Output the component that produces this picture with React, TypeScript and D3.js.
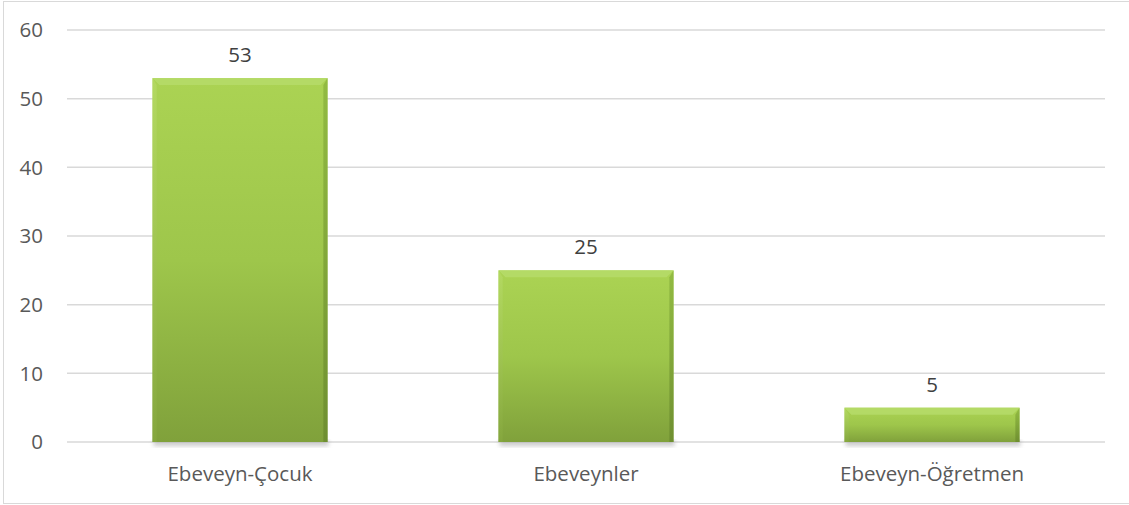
import React from "react";
import * as d3 from "d3";

const categories = ["Ebeveyn-Çocuk", "Ebeveynler", "Ebeveyn-Öğretmen"];
const values = [53, 25, 5];
const yTicks = [0, 10, 20, 30, 40, 50, 60];

const W = 1129;
const H = 505;
const plot = { left: 67, right: 1105, top: 30, bottom: 442 };

export default function App() {
  const x = d3
    .scaleBand<string>()
    .domain(categories)
    .range([plot.left, plot.right])
    .paddingInner(0.494)
    .paddingOuter(0.247);
  const y = d3.scaleLinear().domain([0, 60]).range([plot.bottom, plot.top]);
  const font = "'Open Sans', sans-serif";
  const fs = 20.5;
  const bev = 7;

  return (
    <svg
      width={W}
      height={H}
      style={{ position: "absolute", left: 0, top: 0, display: "block" }}
    >
      <defs>
        <linearGradient id="barGrad" x1="0" y1="0" x2="0" y2="1">
          <stop offset="0%" stopColor="#abd353" />
          <stop offset="50%" stopColor="#9ec64b" />
          <stop offset="100%" stopColor="#80a13b" />
        </linearGradient>
        <linearGradient id="sideL" x1="0" y1="0" x2="0" y2="1">
          <stop offset="0%" stopColor="#b8dc6a" />
          <stop offset="100%" stopColor="#88aa40" />
        </linearGradient>
        <linearGradient id="sideR" x1="0" y1="0" x2="0" y2="1">
          <stop offset="0%" stopColor="#8cb53e" />
          <stop offset="100%" stopColor="#6a8a2e" />
        </linearGradient>
        <filter id="shadow" x="-10%" y="-10%" width="120%" height="130%">
          <feGaussianBlur stdDeviation="2" />
        </filter>
      </defs>
      <rect x={3.5} y={1.5} width={W + 10} height={502} fill="#fff" stroke="#d9d9d9" strokeWidth={1} />
      {yTicks.map((t) => (
        <g key={t}>
          <line
            x1={plot.left}
            x2={plot.right}
            y1={y(t)}
            y2={y(t)}
            stroke="#d9d9d9"
            strokeWidth={1.5}
          />
          <text
            x={43}
            y={y(t)}
            dy="0.35em"
            textAnchor="end"
            fontFamily={font}
            fontSize={fs}
            fill="#595959"
          >
            {t}
          </text>
        </g>
      ))}
      {categories.map((c, i) => {
        const x0 = x(c)!;
        const bw = x.bandwidth();
        const x1 = x0 + bw;
        const yt = y(values[i]);
        const yb = y(0);
        const b = Math.min(bev, (yb - yt) / 2);
        return (
          <g key={c}>
            <rect
              x={x0 + 1}
              y={yb - 2}
              width={bw}
              height={6}
              fill="#999"
              opacity={0.5}
              filter="url(#shadow)"
            />
            <rect x={x0} y={yt} width={bw} height={yb - yt} fill="url(#barGrad)" />
            <polygon
              points={`${x0},${yt} ${x1},${yt} ${x1 - b},${yt + b} ${x0 + b},${yt + b}`}
              fill="#b7dc6c"
              opacity={0.8}
            />
            <polygon
              points={`${x0},${yt} ${x0 + b * 0.6},${yt + b} ${x0 + b * 0.6},${yb} ${x0},${yb}`}
              fill="url(#sideL)"
              opacity={0.6}
            />
            <polygon
              points={`${x1},${yt} ${x1 - b * 0.6},${yt + b} ${x1 - b * 0.6},${yb} ${x1},${yb}`}
              fill="url(#sideR)"
              opacity={0.8}
            />
            <text
              x={x0 + bw / 2}
              y={yt - 16}
              textAnchor="middle"
              fontFamily={font}
              fontSize={fs}
              fill="#404040"
            >
              {values[i]}
            </text>
            <text
              x={x0 + bw / 2}
              y={481}
              textAnchor="middle"
              fontFamily={font}
              fontSize={fs}
              fill="#595959"
            >
              {c}
            </text>
          </g>
        );
      })}
    </svg>
  );
}
